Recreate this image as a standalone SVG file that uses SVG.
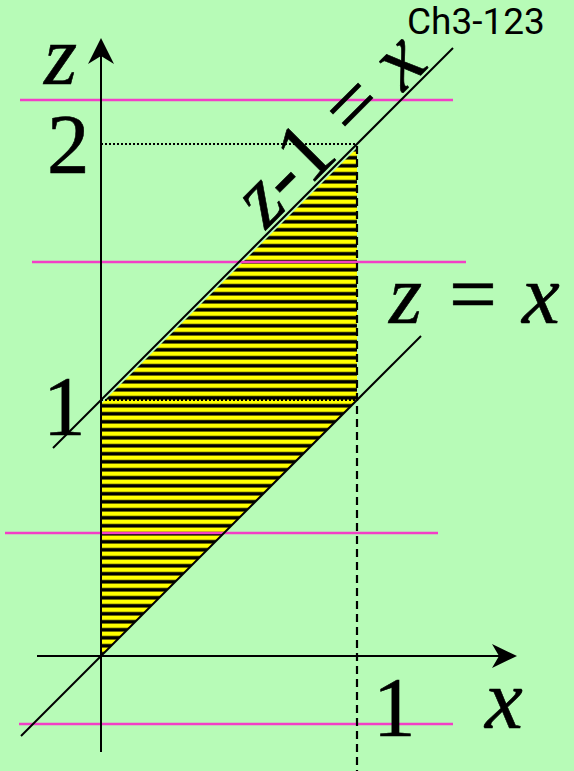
<svg xmlns="http://www.w3.org/2000/svg" width="574" height="771" viewBox="0 0 574 771">
  <style>
    .ln { stroke: #000; stroke-width: 2; fill: none; }
    .mag { stroke: #f23fc6; stroke-width: 2.5; fill: none; }
    .dot { stroke: #000; stroke-width: 2; stroke-dasharray: 2 2; fill: none; }
    .dash { stroke: #000; stroke-width: 2.2; stroke-dasharray: 8 5; fill: none; }
    .ser { font-family: "Liberation Serif", "Times New Roman", serif; font-size: 85px; fill: #000; stroke: #000; stroke-width: 0.6; }
    .it { font-style: italic; }
    .tag { font-family: Roboto, "Noto Sans", sans-serif; font-size: 37px; fill: #000; }
  </style>
  <defs>
    <pattern id="stripes" patternUnits="userSpaceOnUse" x="0" y="0" width="8" height="8">
      <rect x="0" y="0" width="8" height="8" fill="#ffff00"/>
      <rect x="0" y="3.6" width="8" height="0.7" fill="#7a7a00"/>
      <rect x="0" y="4.2" width="8" height="3.4" fill="#000"/>
      <rect x="0" y="7.5" width="8" height="0.5" fill="#7a7a00"/>
    </pattern>
  </defs>
  <rect x="0" y="0" width="574" height="771" fill="#b7fbb7"/>

  <g id="region">
    <polygon points="101,656 357,400 357,148 101,404" fill="url(#stripes)"/>
  </g>

  <g id="guides">
    <line class="mag" x1="20" y1="100" x2="453" y2="100"/>
    <line class="mag" x1="32" y1="262" x2="466" y2="262"/>
    <line class="mag" x1="5" y1="533" x2="438" y2="533"/>
    <line class="mag" x1="19" y1="724" x2="453" y2="724"/>
  </g>

  <g id="connectors">
    <line class="dot" x1="101" y1="144" x2="357" y2="144"/>
    <line class="dot" x1="101" y1="400" x2="357" y2="400"/>
    <line class="dash" x1="357" y1="146" x2="357" y2="771"/>
    <line id="line-zx" class="ln" x1="21" y1="736" x2="421" y2="336"/>
    <line id="line-z1x" class="ln" x1="53" y1="448" x2="453" y2="48"/>
  </g>

  <g id="axis-z">
    <line class="ln" x1="101" y1="752" x2="101" y2="50"/>
    <polygon points="101,38 114,64 101,56 88,64" fill="#000"/>
  </g>
  <g id="axis-x">
    <line class="ln" x1="37" y1="656" x2="505" y2="656"/>
    <polygon points="517,656 492,668 499,656 492,644" fill="#000"/>
  </g>

  <g id="labels">
    <text class="ser it" x="44" y="84">z</text>
    <text class="ser" x="47" y="173">2</text>
    <text class="ser" x="43" y="435">1</text>
    <text class="ser" x="373" y="736">1</text>
    <text class="ser it" x="485" y="728">x</text>
    <text class="ser it" x="389" y="323">z</text>
    <text class="ser" x="449" y="323">=</text>
    <text class="ser it" x="522" y="323">x</text>
    <g transform="translate(266,230) rotate(-45)">
      <text class="ser" x="0" y="0"><tspan class="it">z</tspan>-1 = <tspan class="it">x</tspan></text>
    </g>
    <text class="tag" x="407" y="34">Ch3-123</text>
  </g>
</svg>
